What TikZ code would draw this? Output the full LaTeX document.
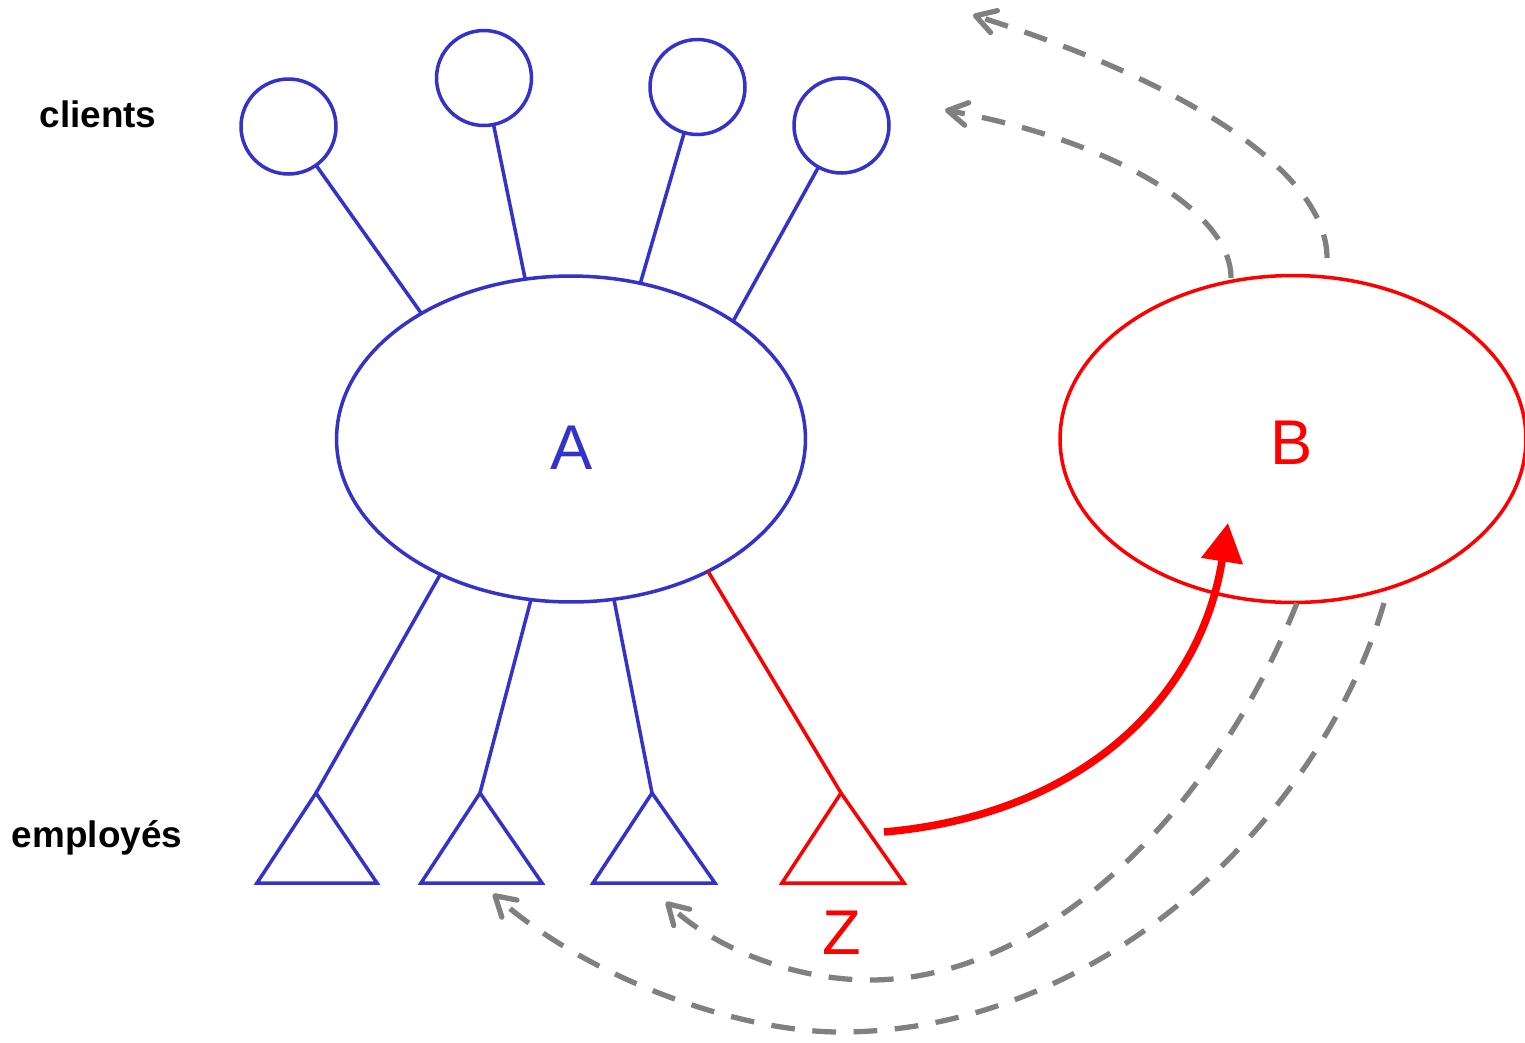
\documentclass[tikz,border=0pt]{standalone}
\usepackage{fontspec}
\setmainfont{Liberation Sans}
\usetikzlibrary{arrows.meta,shapes.geometric}
\definecolor{cblue}{HTML}{3333CC}
\definecolor{cred}{HTML}{FF0000}
\definecolor{cgray}{HTML}{808080}
\begin{document}
\begin{tikzpicture}[x=0.02cm,y=-0.02cm,
  bl/.style={draw=cblue,line width=2pt},
  rd/.style={draw=cred,line width=2pt},
  client/.style={circle,draw=cblue,line width=2pt,minimum size=1.9cm,inner sep=0pt,outer sep=0pt},
  group/.style={ellipse,line width=2pt,inner sep=0pt,outer sep=0pt},
  flow/.style={draw=cgray,line width=3pt,dash pattern=on 13.5pt off 10pt,-{Straight Barb[length=11pt,width=13pt,round]}},
  lab/.style={font=\bfseries\fontsize{21}{25}\selectfont,anchor=base,inner sep=0pt},
  big/.style={font=\fontsize{36}{40}\selectfont,anchor=base,inner sep=0pt}
]
\useasboundingbox (0,0) rectangle (1525,1042);
% groups
\node[group,draw=cblue,minimum width=9.38cm,minimum height=6.52cm] (A) at (571,439) {};
\node[group,draw=cred,minimum width=9.32cm,minimum height=6.54cm] (B) at (1293,439) {};
\node[big,text=cblue] (la) at (572,469.3) {A};
\node[big,text=cred] (lb) at (1291.7,464) {B};
% clients
\node[client] (c1) at (288.5,126.5) {};
\node[client] (c2) at (484,78) {};
\node[client] (c3) at (697.5,87) {};
\node[client] (c4) at (841.5,125.5) {};
\draw[bl] (c1) -- (A.140.3);
\draw[bl] (c2) -- (A.106.3);
\draw[bl] (c3) -- (A.66.9);
\draw[bl] (c4) -- (A.36.4);
% employees
\coordinate (t1) at (316,793);
\coordinate (t2) at (480,793);
\coordinate (t3) at (652,793);
\coordinate (t4) at (841,793);
\draw[bl] (A.226.7) -- (t1);
\draw[bl] (A.256.0) -- (t2);
\draw[bl] (A.285.3) -- (t3);
\draw[rd] (A.316.7) -- (t4);
\draw[bl] (t1) -- ++(-59,90) -- ++(120,0) -- cycle;
\draw[bl] (t2) -- ++(-59,90) -- ++(121,0) -- cycle;
\draw[bl] (t3) -- ++(-59,90) -- ++(122,0) -- cycle;
\draw[rd] (t4) -- ++(-59,90) -- ++(122,0) -- cycle;
\node[big,text=cred] (lz) at (842,954) {Z};
% labels
\node[lab] (cl) at (98,127) {clients};
\node[lab] (em) at (97,847) {employés};
% red arrow
\coordinate (zs) at (884,832);
\coordinate (bt) at (1228,523);
\draw[cred,line width=4.3pt,-{Triangle[length=22pt,width=23pt]}] (zs) .. controls (1080,815) and (1200,700) .. (bt);
% gray dashed arrows
\coordinate (g1s) at (1231,278); \coordinate (g1e) at (945,110);
\draw[flow] (g1s) .. controls (1231,210) and (1110,140) .. (g1e);
\coordinate (g2s) at (1327,258); \coordinate (g2e) at (973,15);
\draw[flow] (g2s) .. controls (1327,170) and (1180,80) .. (g2e);
\coordinate (g3s) at (1297,603); \coordinate (g3m) at (870,980); \coordinate (g3e) at (666,902);
\draw[flow] (g3s) .. controls (1210,820) and (1040,980) .. (g3m) .. controls (790,980) and (710,945) .. (g3e);
\coordinate (g4s) at (1384,603); \coordinate (g4m) at (840,1032); \coordinate (g4e) at (493,894);
\draw[flow] (g4s) .. controls (1320,820) and (1100,1032) .. (g4m) .. controls (740,1032) and (590,980) .. (g4e);
\end{tikzpicture}
\end{document}
